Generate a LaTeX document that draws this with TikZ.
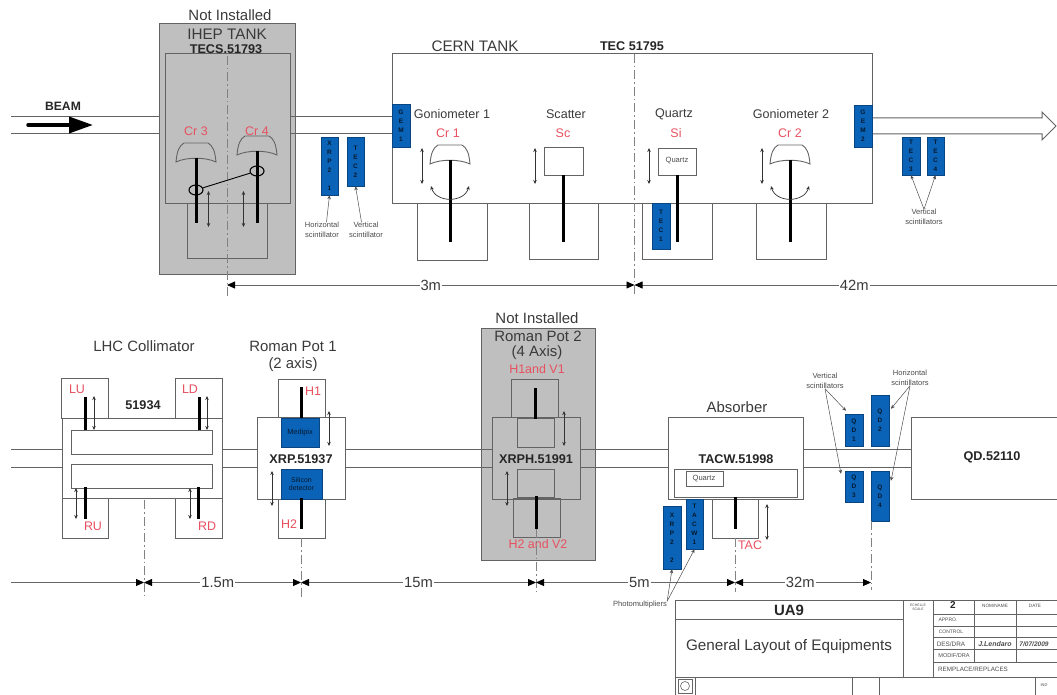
\documentclass[tikz,border=0pt]{standalone}
\usepackage{fontspec}
\setmainfont{Liberation Sans}
\usetikzlibrary{arrows.meta,shapes.geometric,positioning,calc}
\definecolor{tankgrey}{HTML}{BFBFBF}
\definecolor{lineink}{HTML}{636363}
\definecolor{scintblue}{HTML}{0B63B8}
\definecolor{partred}{HTML}{E8505F}
\definecolor{textink}{HTML}{3A3A3A}
\begin{document}
\begin{tikzpicture}[
    x=1bp, y=-1bp,
    wall/.style={draw=lineink, line width=1bp},
    tank/.style={wall, fill=tankgrey},
    beam/.style={draw=lineink, line width=1bp},
    rod/.style={line width=3bp, black},
    axisline/.style={draw=lineink!80, line width=0.8bp, dash pattern=on 9bp off 3bp on 1.5bp off 3bp},
    move/.style={{Stealth[length=4bp,width=3.5bp]}-{Stealth[length=4bp,width=3.5bp]}, line width=0.6bp, black!80},
    swing/.style={{Stealth[length=4bp,width=3.5bp]}-{Stealth[length=4bp,width=3.5bp]}, line width=0.7bp, black!80},
    note/.style={-{Stealth[length=4bp,width=3.5bp]}, line width=0.5bp, black!70},
    dim/.style={draw=black!60, line width=0.8bp},
    dimtip/.style={{Triangle[length=8bp,width=7bp,black]}-{Triangle[length=8bp,width=7bp,black]}, dim},
    dimtipl/.style={{Triangle[length=8bp,width=7bp,black]}-, dim},
    dimtipr/.style={-{Triangle[length=8bp,width=7bp,black]}, dim},
    dimlbl/.style={font=\fontsize{14.8}{16}\selectfont, text=textink, fill=white, inner sep=1pt},
    scint/.style={draw=scintblue!70!black, fill=scintblue, line width=0.5bp, minimum width=17.5bp, align=center, inner sep=0pt, font=\fontsize{6.5}{9}\selectfont\bfseries, text=black!75!scintblue},
    ttl/.style={font=\fontsize{15}{17}\selectfont, text=textink, align=center, inner sep=0pt},
    stage/.style={font=\fontsize{12.6}{14}\selectfont, text=textink, inner sep=0pt},
    tagbold/.style={font=\fontsize{12.7}{14}\selectfont\bfseries, text=black!85, inner sep=0pt},
    part/.style={font=\fontsize{12.5}{14}\selectfont, text=partred, inner sep=0pt},
    small/.style={font=\fontsize{7.6}{9.6}\selectfont, text=black!70, align=center, inner sep=0pt},
    blockline/.style={draw=lineink, line width=0.7bp},
    blocktxt/.style={font=\fontsize{5}{6}\selectfont, text=black!70, inner sep=0pt},
    holder/.pic={\draw[wall, line width=0.9bp] (-12,-10) -- (12,-10) .. controls (17,-7) and (19,-2) .. (20,9) .. controls (10,4) and (-10,4) .. (-20,9) .. controls (-19,-2) and (-17,-7) .. (-12,-10) -- cycle;}
]
\useasboundingbox (0,0) rectangle (1057,695);

\draw[tank] (159,24) rectangle (295,274);
\draw[wall] (165,54) rectangle (290,203);
\draw[wall] (187,203) rectangle (267,258);
\draw[wall] (392,54) rectangle (872,203);
\draw[tank] (481,328) rectangle (595,560);

\draw[beam] (11,117) -- (159,117) (11,134) -- (159,134);
\draw[beam] (290,117) -- (392,117) (290,134) -- (392,134);
\draw[beam, fill=white] (872,118) -- (1042,118) -- (1042,112) -- (1056,126) -- (1042,140) -- (1042,134) -- (872,134);
\draw[beam] (11,449) -- (62,449) (11,467) -- (62,467);
\draw[beam] (222,449) -- (257,449) (222,467) -- (257,467);
\draw[beam] (345,449) -- (492,449) (345,467) -- (492,467);
\draw[beam] (580,449) -- (668,449) (580,467) -- (668,467);
\draw[beam] (803,449) -- (911,449) (803,467) -- (911,467);

\node[font=\fontsize{12.2}{14}\selectfont\bfseries, text=black!85, inner sep=0pt] (beamlbl) at (63,106) {BEAM};
\coordinate (beamtail) at (28,125);
\coordinate (beamhead) at (93,125);
\draw[-{Triangle[length=24bp,width=16bp]}, line width=3.5bp, black, line cap=round] (beamtail) -- (beamhead);

\node[ttl] (notinstalleda) at (230,15) {Not Installed};
\node[ttl, font=\fontsize{15.3}{17}\selectfont] (iheplbl) at (227,34) {IHEP TANK};
\node[tagbold] (tecs) at (226,49) {TECS.51793};
\node[part] (crthree) at (196,131) {Cr 3};
\node[part] (crfour) at (257,131) {Cr 4};
\draw[axisline] (227,56) -- (227,298);
\pic at (196,153) {holder};
\pic at (257,146) {holder};
\draw[rod] (196,158) -- (196,223);
\draw[rod] (257,151) -- (257,223);
\node[draw=black, line width=1.1bp, ellipse, minimum width=14bp, minimum height=10bp, inner sep=0pt] (ringa) at (196,190) {};
\node[draw=black, line width=1.1bp, ellipse, minimum width=14bp, minimum height=10bp, inner sep=0pt] (ringb) at (257,171) {};
\draw[line width=0.9bp, black] (ringa) -- (ringb);
\draw[move] (208.5,191) -- (208.5,227);
\draw[move] (243.5,191) -- (243.5,227);

\node[scint, minimum height=58bp] (xrpone) at (329.5,166) {X\\R\\P\\2\\[9bp]1};
\node[scint, minimum height=49bp] (tectwo) at (355.5,161.5) {T\\E\\C\\2};
\node[small] (horiz) at (322,230) {Horizontal\\scintillator};
\node[small] (vert) at (366,230) {Vertical\\scintillator};
\draw[note] (horiz.60) -- (xrpone.south);
\draw[note] (vert.120) -- (tectwo.south);

\node[ttl, font=\fontsize{15.3}{17}\selectfont] (cernlbl) at (475,46) {CERN TANK};
\node[tagbold] (tecmain) at (632,46) {TEC 51795};
\draw[axisline] (634,54) -- (634,294);
\node[scint, minimum height=43bp] (gemone) at (401,125.5) {G\\E\\M\\1};
\node[scint, minimum height=42bp] (gemtwo) at (863,126) {G\\E\\M\\2};

\node[stage] (gonioa) at (452,114) {Goniometer 1};
\node[part] (crone) at (448,133) {Cr 1};
\node[stage] (scatter) at (566,114) {Scatter};
\node[part] (sclbl) at (563,133) {Sc};
\node[stage] (quartzlbl) at (674,114) {Quartz};
\node[part] (silbl) at (676,133) {Si};
\node[stage] (goniob) at (791,114) {Goniometer 2};
\node[part] (crtwo) at (790,133) {Cr 2};

\draw[wall] (417,203) rectangle (487,260);
\draw[wall] (529,203) rectangle (598,259);
\draw[wall] (642,203) rectangle (712,259);
\draw[wall] (756,203) rectangle (826,259);
\pic at (450,155) {holder};
\pic at (790,155) {holder};
\draw[wall, line width=0.9bp] (544,147) rectangle (583,175);
\draw[wall, line width=0.9bp] (658,148) rectangle (696,175);
\node[small] (quartzbox) at (677,161) {Quartz};
\draw[rod] (450,160) -- (450,242);
\draw[rod] (563,175) -- (563,242);
\draw[rod] (677,175) -- (677,242);
\draw[rod] (790,160) -- (790,242);
\draw[move] (422,148) -- (422,184);
\draw[move] (535,148) -- (535,184);
\draw[move] (649,148) -- (649,184);
\draw[move] (762,148) -- (762,184);
\draw[swing] (431,186) .. controls (436,203) and (464,203) .. (469,186);
\draw[swing] (771,186) .. controls (776,203) and (804,203) .. (809,186);
\node[scint, minimum height=46bp] (tecone) at (661,226) {T\\E\\C\\1};

\node[scint, minimum height=38bp] (tecthree) at (911,156) {T\\E\\C\\3};
\node[scint, minimum height=38bp] (tecfour) at (935.5,156) {T\\E\\C\\4};
\node[small] (vertb) at (924,217) {Vertical\\scintillators};
\draw[note] (vertb.north) -- (tecthree.south);
\draw[note] (vertb.north) -- (tecfour.south);

\coordinate (dimtopa) at (227,285);
\coordinate (dimtopb) at (634.5,285);
\coordinate (dimtopc) at (1057,285);
\draw[dimtip] (dimtopa) -- node[dimlbl] {3m} (dimtopb);
\draw[dimtipl] (dimtopb) -- node[dimlbl, pos=0.52] {42m} (dimtopc);

\node[ttl] (lhclbl) at (144,346) {LHC Collimator};
\draw[wall, fill=white] (61,378) rectangle (108,418);
\draw[wall, fill=white] (175,378) rectangle (222,418);
\draw[wall, fill=white] (62,498) rectangle (108,538);
\draw[wall, fill=white] (175,498) rectangle (222,538);
\draw[wall, fill=white] (62,418) rectangle (222,498);
\draw[wall, fill=white] (71,430) rectangle (212,454);
\draw[wall, fill=white] (71,464) rectangle (212,488);
\draw[rod] (85,397) -- (85,430);
\draw[rod] (199,397) -- (199,430);
\draw[rod] (85,487) -- (85,519);
\draw[rod] (198,487) -- (198,519);
\draw[move] (94,396) -- (94,430);
\draw[move] (207,396) -- (207,430);
\draw[move] (76,488) -- (76,519);
\draw[move] (190,488) -- (190,519);
\node[part] (lulbl) at (77,389) {LU};
\node[part] (ldlbl) at (190,389) {LD};
\node[part] (rulbl) at (93,526) {RU};
\node[part] (rdlbl) at (207,526) {RD};
\node[tagbold] (collim) at (143,405) {51934};
\draw[axisline] (144,500) -- (144,598);

\node[ttl] (rpone) at (293,346) {Roman Pot 1};
\node[ttl] (rponeb) at (293,365) {(2 axis)};
\draw[wall, fill=white] (278,379) rectangle (325,417);
\draw[wall, fill=white] (278,499) rectangle (325,538);
\draw[wall, fill=white] (257,417) rectangle (345,499);
\node[scint, minimum width=38bp, minimum height=29bp, font=\fontsize{7.4}{9}\selectfont] (medipix) at (300,432.5) {Medipix};
\node[scint, minimum width=41bp, minimum height=30bp, font=\fontsize{7}{9}\selectfont] (silicon) at (301.5,484) {Silicon\\detector};
\draw[rod] (301,387) -- (301,418);
\draw[rod] (301,498) -- (301,529);
\draw[move] (329,411) -- (329,446);
\draw[move] (272,471) -- (272,506);
\node[part] (hone) at (313,391) {H1};
\node[part] (htwo) at (289,524) {H2};
\node[tagbold] (xrplbl) at (301,459) {XRP.51937};
\draw[axisline] (301,538) -- (301,598);

\node[ttl] (notinstalledb) at (537,318) {Not Installed};
\node[ttl] (rptwo) at (538,336) {Roman Pot 2};
\node[ttl] (rptwob) at (537,353) {(4 Axis)};
\node[part] (hvone) at (537,369) {H1and V1};
\draw[wall] (511,379) rectangle (558,417);
\draw[wall] (513,498) rectangle (560,537);
\draw[wall] (492,417) rectangle (580,499);
\draw[wall] (517,418) rectangle (554,447);
\draw[wall] (517,469) rectangle (554,497);
\draw[rod] (535,388) -- (535,419);
\draw[rod] (536,496) -- (536,529);
\draw[move] (564,411) -- (564,446);
\draw[move] (507,471) -- (507,506);
\node[tagbold] (xrphlbl) at (536,459) {XRPH.51991};
\node[part] (hvtwo) at (538,544) {H2 and V2};
\draw[axisline] (536,529) -- (536,593);

\node[ttl] (absorber) at (737,407) {Absorber};
\draw[wall, fill=white] (668,417) rectangle (803,499);
\draw[wall, fill=white] (674,469) rectangle (797,497);
\draw[wall, fill=white] (686,471) rectangle (723,486);
\node[small] (quartzabs) at (704,478.5) {Quartz};
\draw[wall] (712,499) rectangle (758,538);
\draw[rod] (735,497) -- (735,529);
\draw[move] (767,504) -- (767,540);
\node[tagbold] (tacwlbl) at (736,459) {TACW.51998};
\node[part] (taclbl) at (750,545) {TAC};
\draw[axisline] (735,538) -- (735,592);
\node[scint, minimum height=50bp] (tacwone) at (694.5,524) {T\\A\\C\\W\\1};
\node[scint, minimum height=63bp] (xrptwo) at (672,537.5) {X\\R\\P\\2\\[9bp]2};
\node[small] (photo) at (640,605) {Photomultipliers};
\draw[note] (photo.north east) -- (xrptwo.south);
\draw[note] (photo.north east) -- (tacwone.south);

\node[scint, minimum height=32bp] (qdone) at (854,430) {Q\\D\\1};
\node[scint, minimum height=51bp] (qdtwo) at (880,420.5) {Q\\D\\2};
\node[scint, minimum height=31bp] (qdthree) at (854,486.5) {Q\\D\\3};
\node[scint, minimum height=50bp] (qdfour) at (880,496) {Q\\D\\4};
\node[small] (vertc) at (825,381) {Vertical\\scintillators};
\node[small] (horizc) at (910,378) {Horizontal\\scintillators};
\draw[note] (vertc.south) -- ($(qdone.north west)+(1,-3)$);
\draw[note] (vertc.south) -- ($(qdthree.north west)+(-4,3)$);
\draw[note] (horizc.south) -- ($(qdtwo.north east)+(2,14)$);
\draw[note] (horizc.south) -- ($(qdfour.north east)+(2,10)$);
\draw[axisline] (871,521) -- (871,590);

\draw[wall, fill=white] (911,417) rectangle (1058,499);
\node[tagbold] (qdlbl) at (992,457) {QD.52110};

\coordinate (dimlowa) at (11,582.5);
\coordinate (dimlowb) at (144,582.5);
\coordinate (dimlowc) at (301,582.5);
\coordinate (dimlowd) at (536,582.5);
\coordinate (dimlowe) at (735,582.5);
\coordinate (dimlowf) at (871,582.5);
\draw[dimtipr] (dimlowa) -- (dimlowb);
\draw[dimtip] (dimlowb) -- node[dimlbl, pos=0.47] {1.5m} (dimlowc);
\draw[dimtip] (dimlowc) -- node[dimlbl] {15m} (dimlowd);
\draw[dimtip] (dimlowd) -- node[dimlbl, pos=0.52] {5m} (dimlowe);
\draw[dimtip] (dimlowe) -- node[dimlbl, pos=0.48] {32m} (dimlowf);

\draw[blockline, line width=1bp] (675,600) rectangle (1057,695);
\draw[blockline, line width=1bp] (675,619) -- (903,619);
\draw[blockline] (675,677) -- (1057,677);
\draw[blockline] (903,600) -- (903,677);
\draw[blockline] (933,600) -- (933,677);
\draw[blockline] (974,600) -- (974,662);
\draw[blockline] (1016,600) -- (1016,662);
\draw[blockline] (933,614) -- (1057,614);
\draw[blockline] (933,626) -- (1057,626);
\draw[blockline] (933,637) -- (1057,637);
\draw[blockline] (933,649) -- (1057,649);
\draw[blockline] (933,662) -- (1057,662);
\draw[blockline] (695,677) -- (695,695);
\draw[blockline] (852,677) -- (852,695);
\draw[blockline] (879,677) -- (879,695);
\draw[blockline] (1035,677) -- (1035,695);
\draw[black!60, line width=0.6bp] (678,679) rectangle (692,693);
\node[draw=black!60, line width=0.6bp, circle, minimum size=9bp, inner sep=0pt] (stamp) at (685,686) {};
\node[font=\fontsize{15}{17}\selectfont\bfseries, text=black!85, inner sep=0pt] (uanine) at (789,610) {UA9};
\node[font=\fontsize{15.3}{17}\selectfont, text=textink, inner sep=0pt] (gentitle) at (789,647) {General Layout of Equipments};
\node[blocktxt, align=center, font=\fontsize{3.5}{4}\selectfont] (scalelbl) at (918,607) {ECHELLE\\SCALE};
\node[font=\fontsize{10}{12}\selectfont\bfseries, text=black!85, inner sep=0pt] (scaleval) at (953,605) {2};
\node[blocktxt, font=\fontsize{4.7}{5}\selectfont] (namelbl) at (995,606) {NOM/NAME};
\node[blocktxt, font=\fontsize{4.7}{5}\selectfont] (datelbl) at (1035,606) {DATE};
\node[blocktxt] (appro) at (948,619.5) {APPRO.};
\node[blocktxt] (control) at (951,631.5) {CONTROL};
\node[blocktxt, font=\fontsize{6.4}{7}\selectfont] (desdra) at (951,644) {DES/DRA};
\node[blocktxt, font=\fontsize{7}{8}\selectfont\bfseries\itshape] (drawer) at (995,644) {J.Lendaro};
\node[blocktxt, font=\fontsize{6.6}{8}\selectfont\bfseries\itshape] (drawdate) at (1034,644) {7/07/2009};
\node[blocktxt, font=\fontsize{5.6}{6}\selectfont] (modif) at (954,656) {MODIF/DRA};
\node[blocktxt, font=\fontsize{6.3}{7}\selectfont] (replaces) at (973,669) {REMPLACE/REPLACES};
\node[blocktxt, font=\fontsize{4}{5}\selectfont] (indlbl) at (1044,685) {IND};
\end{tikzpicture}
\end{document}
